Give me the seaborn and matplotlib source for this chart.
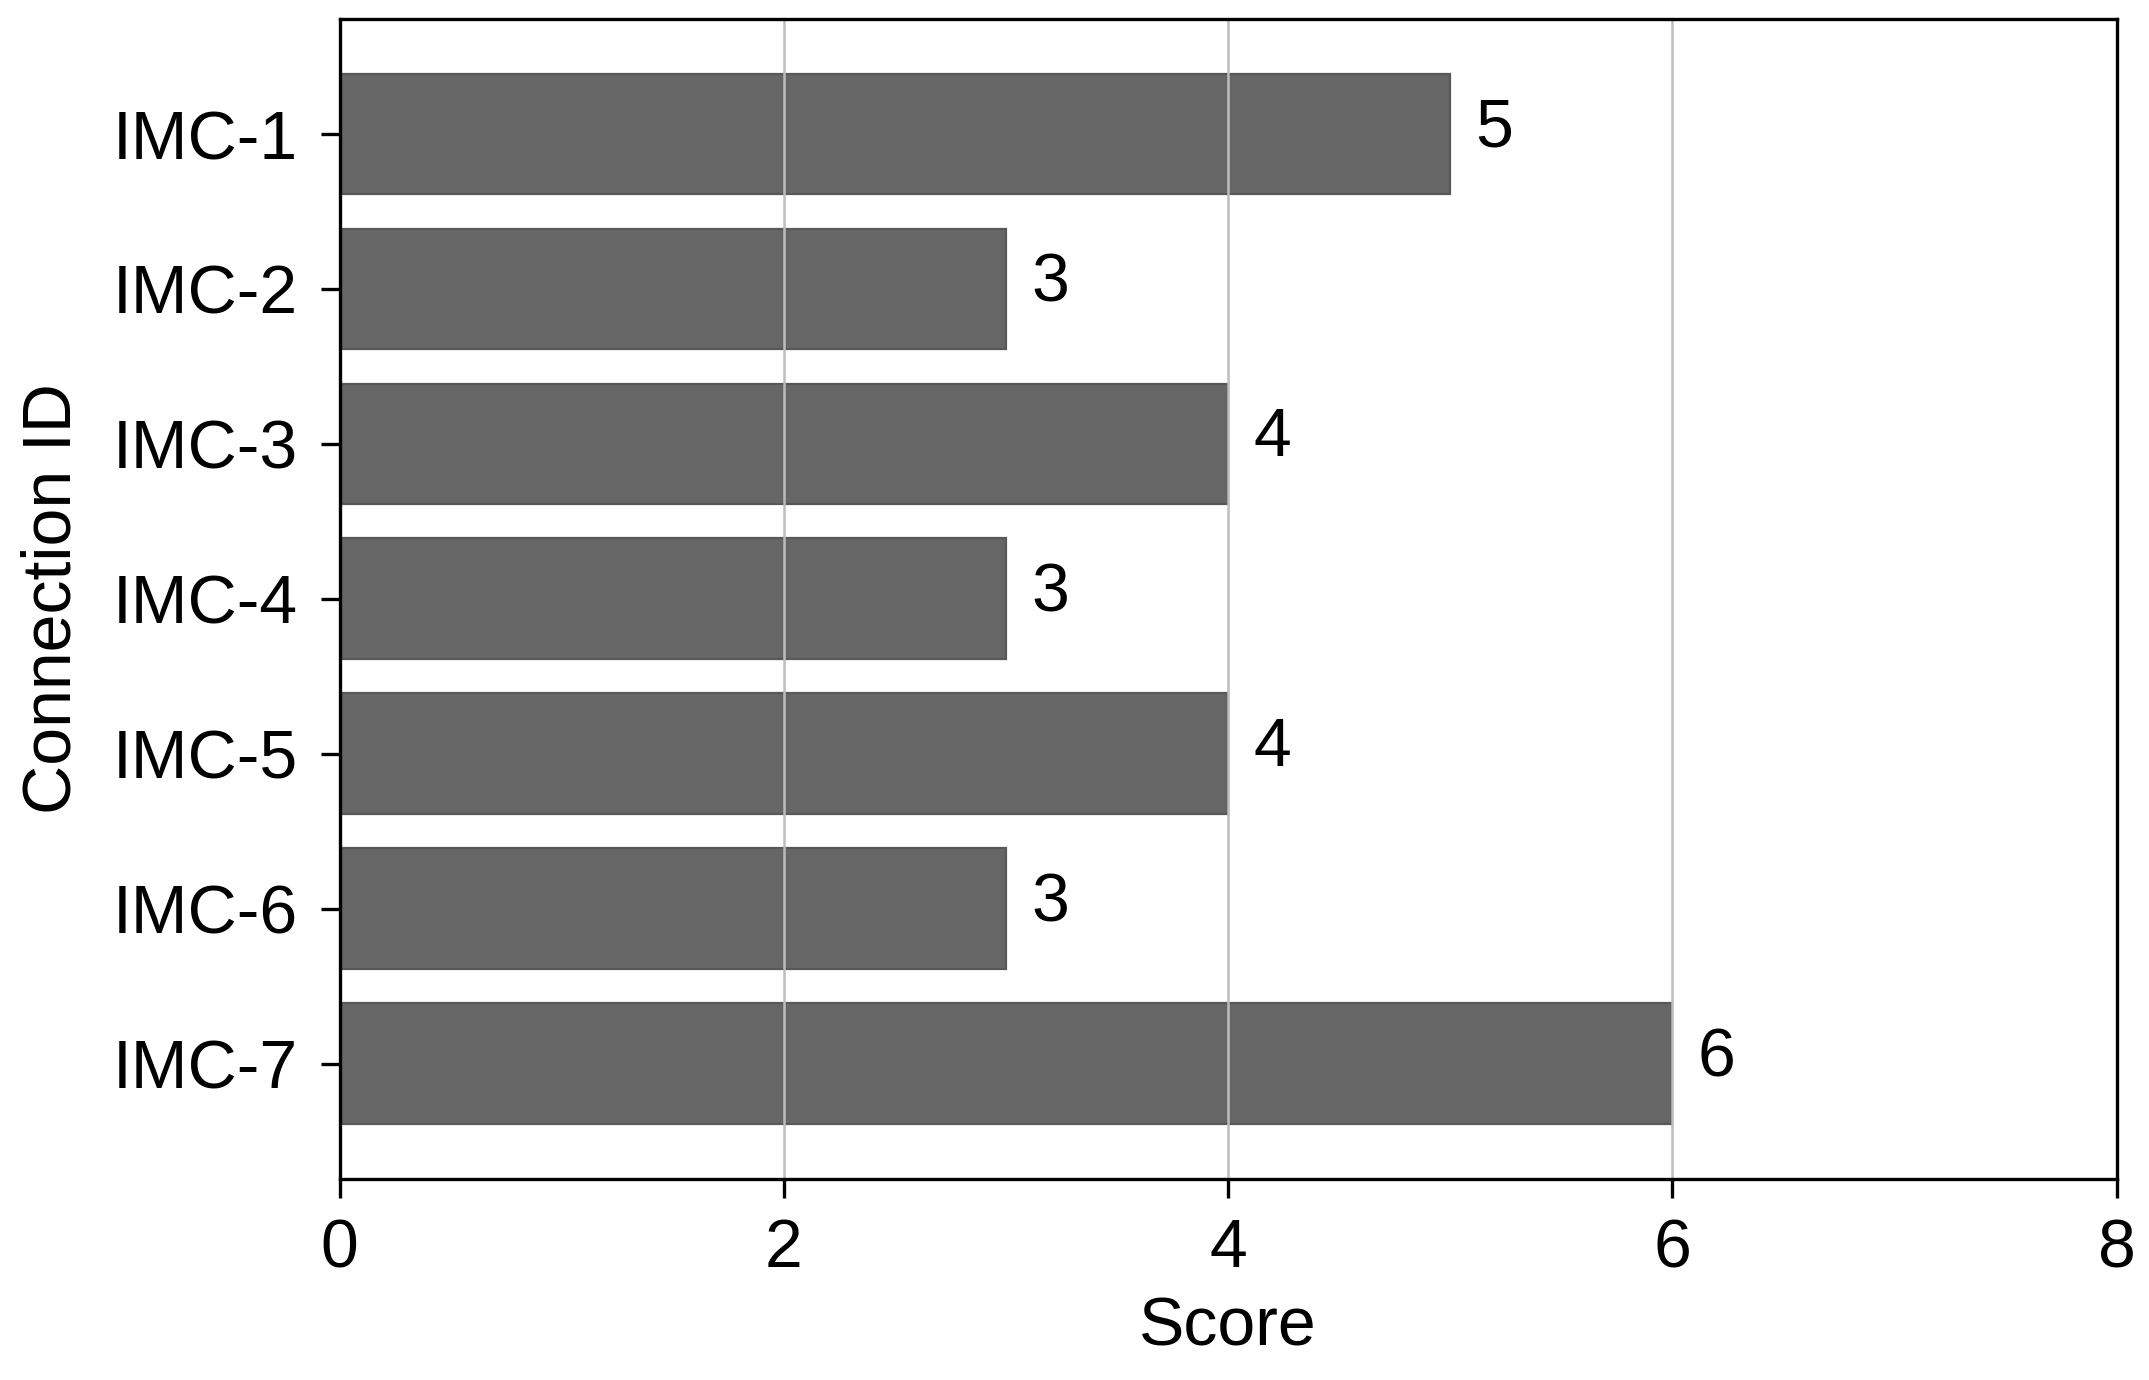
import matplotlib
matplotlib.use("Agg")
import matplotlib.pyplot as plt
import seaborn as sns
import pandas as pd

categories = ["IMC-1", "IMC-2", "IMC-3", "IMC-4", "IMC-5", "IMC-6", "IMC-7"]
scores = [5, 3, 4, 3, 4, 3, 6]
x_ticks = [0, 2, 4, 6, 8]

sns.set_theme(style="white")
plt.rcParams['font.family'] = ['Liberation Sans', 'DejaVu Sans']

df = pd.DataFrame({"Connection ID": categories, "Score": scores})

fig = plt.figure(figsize=(10.745, 6.9), dpi=200)
ax = fig.add_axes([0.158, 0.146, 0.827, 0.840])

sns.barplot(data=df, y="Connection ID", x="Score", color="#666666",
            saturation=1, width=0.78, ax=ax, zorder=1,
            edgecolor="#585858", linewidth=0.8)

for p, v in zip(ax.patches, scores):
    ax.annotate(f"{v}", (p.get_width(), p.get_y() + p.get_height() / 2),
                xytext=(9, 2), textcoords="offset points",
                ha="left", va="center", fontsize=24.5, color="black")

ax.set_xlim(0, 8)
ax.set_xticks(x_ticks)
ax.set_ylim(6.74, -0.74)
ax.set_axisbelow(False)
ax.xaxis.grid(True, color="#bdbdbd", linewidth=0.9, zorder=2)
ax.yaxis.grid(False)

for s in ax.spines.values():
    s.set_color("black")
    s.set_linewidth(1.2)
    s.set_zorder(3)

ax.tick_params(axis="both", which="major", labelsize=24.5, length=7,
               width=1.2, color="black", labelcolor="black",
               bottom=True, left=True, direction="out")
ax.tick_params(axis="x", pad=7)
ax.tick_params(axis="y", pad=8)
ax.set_xlabel("Score", fontsize=24.5, color="black", labelpad=5)
ax.set_ylabel("Connection ID", fontsize=24.5, color="black", labelpad=10)

fig.savefig("out.png", dpi=200)
